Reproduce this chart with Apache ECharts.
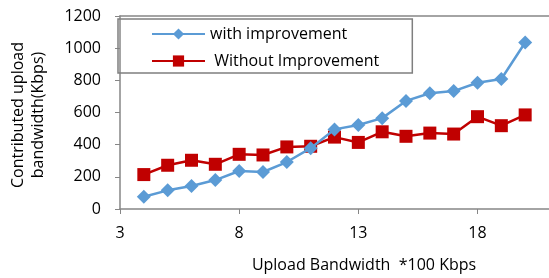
<!DOCTYPE html>
<html>
<head>
<meta charset="utf-8">
<script src="https://cdn.jsdelivr.net/npm/echarts@6/dist/echarts.min.js"></script>
<style>
  html, body { margin: 0; padding: 0; background: #fff; }
  #chart { width: 549px; height: 278px; }
</style>
</head>
<body>
<div id="chart"></div>
<script>
// upload bandwidth (*100 Kbps)
const bandwidth = [4, 5, 6, 7, 8, 9, 10, 11, 12, 13, 14, 15, 16, 17, 18, 19, 20];
const withImprovement = [76, 116, 143, 180, 236, 230, 292, 378, 495, 522, 565, 672, 720, 733, 785, 808, 1035];
const withoutImprovement = [214, 272, 303, 278, 340, 336, 386, 390, 447, 414, 480, 452, 472, 466, 574, 518, 585];

const font = "'Open Sans', Lato, sans-serif";
const mycharts = echarts.init(document.getElementById("chart"));

const pairs = (ys) => bandwidth.map((x, i) => [x, ys[i]]);

const option = {
  animation: false,
  textStyle: { fontFamily: font },
  grid: { left: 114, top: 16, right: 0, bottom: 69 },
  legend: {
    orient: "vertical",
    left: 118,
    top: 19,
    padding: [6, 33, 3, 33],
    itemGap: 9,
    itemWidth: 53,
    itemHeight: 14,
    borderColor: "#7f7f7f",
    borderWidth: 1.5,
    textStyle: { fontSize: 16, lineHeight: 18, color: "#000", fontFamily: font },
    data: ["with improvement", " Without Improvement"],
  },
  xAxis: [
    {
      type: "value",
      min: 3,
      max: 21,
      interval: 5,
      name: "Upload Bandwidth  *100 Kbps",
      nameLocation: "middle",
      nameGap: 48,
      nameTextStyle: { fontSize: 16, color: "#000", padding: [0, 0, 0, 59] },
      splitLine: { show: false },
      axisLine: { lineStyle: { color: "#868686", width: 1.5 } },
      axisTick: { show: true, length: 5, lineStyle: { color: "#868686" } },
      axisLabel: { fontSize: 16, color: "#000", margin: 16, showMaxLabel: false },
    },
    {
      type: "value",
      position: "top",
      min: 3,
      max: 21,
      splitLine: { show: false },
      axisLine: { show: true, lineStyle: { color: "#868686", width: 1.5 } },
      axisTick: { show: false },
      axisLabel: { show: false },
    },
  ],
  yAxis: {
    type: "value",
    min: 0,
    max: 1200,
    interval: 200,
    name: "Contributed upload\nbandwidth(Kbps)",
    nameLocation: "middle",
    nameGap: 72,
    nameTextStyle: { fontSize: 16, color: "#000", lineHeight: 20, padding: [0, 5, 0, 0] },
    splitLine: { show: false },
    axisLine: { show: true, lineStyle: { color: "#868686", width: 1.5 } },
    axisTick: { show: true, length: 5, lineStyle: { color: "#868686" } },
    axisLabel: { fontSize: 16, color: "#000", margin: 19, formatter: (v) => String(v) },
  },
  series: [
    {
      name: "with improvement",
      type: "line",
      data: pairs(withImprovement),
      symbol: "diamond",
      symbolSize: 14,
      color: "#5B9BD5",
      lineStyle: { width: 2.5 },
      z: 3,
    },
    {
      name: " Without Improvement",
      type: "line",
      data: pairs(withoutImprovement),
      symbol: "rect",
      symbolSize: 13,
      color: "#C00000",
      lineStyle: { width: 2.5 },
      z: 2,
    },
  ],
};
mycharts.setOption(option);
</script>
</body>
</html>
